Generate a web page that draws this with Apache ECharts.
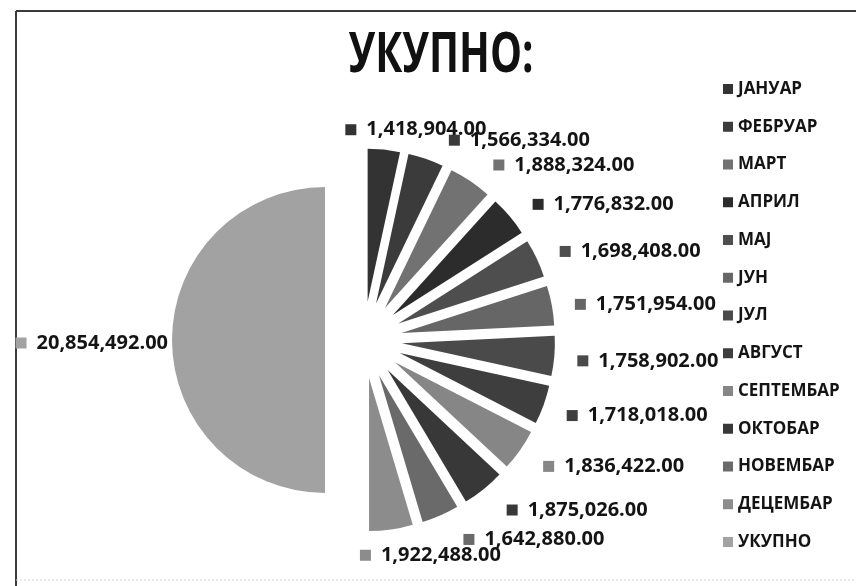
<!DOCTYPE html>
<html><head><meta charset="utf-8">
<script src="https://cdn.jsdelivr.net/npm/echarts@6/dist/echarts.min.js"></script>
<style>html,body{margin:0;padding:0;background:#fff}#c{width:856px;height:586px}</style>
</head><body><div id="c"></div>
<script>
const categories = ['ЈАНУАР','ФЕБРУАР','МАРТ','АПРИЛ','МАЈ','ЈУН','ЈУЛ','АВГУСТ','СЕПТЕМБАР','ОКТОБАР','НОВЕМБАР','ДЕЦЕМБАР','УКУПНО'];
const values = [1418904,1566334,1888324,1776832,1698408,1751954,1758902,1718018,1836422,1875026,1642880,1922488,20854492];
const colors = ['#333333','#3b3b3b','#727272','#2c2c2c','#4e4e4e','#666666','#4a4a4a','#3e3e3e','#868686','#383838','#6a6a6a','#8c8c8c','#a2a2a2'];
const titleText = 'УКУПНО:';

const CX = 363.5, CY = 340, R = 153, OFF = 38.5;
const FONT = '"Open Sans", "Liberation Sans", sans-serif';
const total = values.reduce((a, b) => a + b, 0);
const mids = [];
let acc = 0;
values.forEach(v => { mids.push((acc + v / 2) / total * 2 * Math.PI); acc += v; });

function fmt(v) { return v.toLocaleString('en-US', {minimumFractionDigits: 2, maximumFractionDigits: 2}); }

const data = categories.map((name, i) => ({
  name: name, value: values[i], selected: true,
  itemStyle: {color: colors[i]},
  label: {rich: {
    s: {width: 11, height: 11, backgroundColor: colors[i]},
    v: {fontFamily: FONT, fontWeight: 'bold', fontSize: 20, color: '#141414', lineHeight: 22, padding: [0, 0, 0, 10]}
  }}
}));

const chart = echarts.init(document.getElementById('c'), null, {renderer: 'canvas'});
chart.setOption({
  animation: false,
  backgroundColor: '#ffffff',
  graphic: [
    {type: 'line', shape: {x1: 16, y1: 11, x2: 856, y2: 11}, style: {stroke: '#3a3a3a', lineWidth: 2}},
    {type: 'line', shape: {x1: 16, y1: 11, x2: 16, y2: 586}, style: {stroke: '#3a3a3a', lineWidth: 2}},
    {type: 'line', shape: {x1: 16, y1: 580, x2: 856, y2: 580}, style: {stroke: '#d0d0d0', lineWidth: 1, lineDash: [2, 2]}},
    {type: 'text', x: 441, y: 56, scaleX: 0.72,
     style: {text: titleText, font: 'bold 56px "Open Sans", sans-serif', fill: '#111111', align: 'center', verticalAlign: 'middle'}}
  ],
  legend: {
    orient: 'vertical', left: 718, top: 74, icon: 'rect', itemWidth: 10, itemHeight: 10, itemGap: 17.75,
    selectedMode: false,
    textStyle: {fontFamily: FONT, fontWeight: 'bold', fontSize: 17, color: '#141414', lineHeight: 20},
    data: categories
  },
  series: [{
    type: 'pie', center: [CX, CY], radius: R, startAngle: 90, clockwise: true,
    selectedMode: 'multiple', selectedOffset: OFF, avoidLabelOverlap: false,
    itemStyle: {borderWidth: 0},
    emphasis: {disabled: true},
    select: {itemStyle: {borderWidth: 0}},
    label: {show: true, position: 'outside', formatter: p => '{s|}{v|' + fmt(p.value) + '}'},
    labelLine: {show: false},
    labelLayout: function (p) {
      const a = mids[p.dataIndex];
      const ux = Math.sin(a), uy = -Math.cos(a);
      const ox = CX + (R + OFF) * ux, oy = CY + (R + OFF) * uy;
      const lr = p.labelRect;
      const w = lr.width, h = lr.height;
      let left;
      if (ux >= 0) { const f = Math.max(0, 1 - Math.pow(ux / 0.3, 2)); left = ox + 23 - w / 2 * f; }
      else { left = ox - 4 - w; }
      const cy = oy + 23 * uy + 3;
      const nowLeft = lr.x + OFF * ux, nowCy = lr.y + h / 2 + OFF * uy;
      return {dx: left - nowLeft, dy: cy - nowCy};
    },
    data: data
  }]
});
</script></body></html>
